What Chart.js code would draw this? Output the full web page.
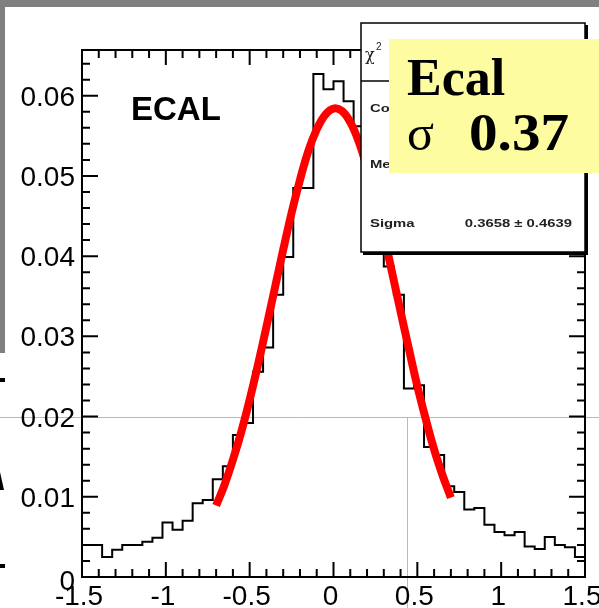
<!DOCTYPE html>
<html>
<head>
<meta charset="utf-8">
<script src="https://cdn.jsdelivr.net/npm/chart.js@4.4.1/dist/chart.umd.min.js"></script>
<style>
  html, body { margin: 0; padding: 0; background: #fff; }
  #caixa { width: 599px; height: 608px; overflow: hidden; }
</style>
</head>
<body>
<div id="caixa"><canvas id="graficoEcal" width="599" height="608"></canvas></div>
<script>
// histograma: 50 bins de 0.06 entre -1.5 e 1.5
const inicioBins = -1.5;
const larguraBin = 0.06;
const contagens = [
  0.0040, 0.0040, 0.0025, 0.0034, 0.0040, 0.0040, 0.0044, 0.0049, 0.0068, 0.0059,
  0.0070, 0.0092, 0.0096, 0.0122, 0.0138, 0.0177, 0.0192, 0.0256, 0.0286, 0.0352,
  0.0399, 0.0485, 0.0485, 0.0627, 0.0608, 0.0618, 0.0593, 0.0562, 0.0500, 0.0450,
  0.0387, 0.0352, 0.0235, 0.0239, 0.0162, 0.0152, 0.0113, 0.0106, 0.0084, 0.0086,
  0.0065, 0.0056, 0.0052, 0.0056, 0.0038, 0.0035, 0.0050, 0.0040, 0.0037, 0.0025
];

// curva do ajuste gaussiano (vermelha)
const ajusteX = [
  -0.70, -0.65, -0.60, -0.55, -0.50, -0.45, -0.40, -0.35, -0.30, -0.25,
  -0.20, -0.15, -0.10, -0.05, 0.00, 0.05, 0.10, 0.15, 0.20, 0.25,
  0.30, 0.35, 0.40, 0.45, 0.50, 0.55, 0.60, 0.65, 0.70
];
const ajusteY = [
  0.0089, 0.0115, 0.0146, 0.0181, 0.0221, 0.0265, 0.0312, 0.0360, 0.0408, 0.0454,
  0.0495, 0.0531, 0.0558, 0.0576, 0.0584, 0.0581, 0.0567, 0.0543, 0.0510, 0.0471,
  0.0427, 0.0379, 0.0331, 0.0284, 0.0238, 0.0197, 0.0159, 0.0127, 0.0099
];

const rotulosX = ['-1.5', '-1', '-0.5', '0', '0.5', '1', '1.5'];
const rotulosY = ['0', '0.01', '0.02', '0.03', '0.04', '0.05', '0.06'];

function montaHistograma() {
  let pontos = contagens.map((valor, i) => ({ x: inicioBins + i * larguraBin, y: valor }));
  pontos.push({ x: inicioBins + contagens.length * larguraBin, y: contagens[contagens.length - 1] });
  return pontos;
}

function montaAjuste() {
  return ajusteX.map((x, i) => ({ x: x, y: ajusteY[i] }));
}

function textoEsticado(ctx, texto, x, y, fator, alinhamento) {
  ctx.save();
  ctx.translate(x, y);
  ctx.scale(fator, 1);
  ctx.textAlign = alinhamento;
  ctx.fillText(texto, 0, 0);
  ctx.restore();
}

// linhas cinzas finas que cruzam o quadro
const linhasFundo = {
  id: 'linhasFundo',
  beforeDatasetsDraw(chart) {
    const ctx = chart.ctx;
    const y = chart.scales.y.getPixelForValue(0.02);
    const x = Math.round(chart.scales.x.getPixelForValue(0.44)) + 0.5;
    ctx.save();
    ctx.strokeStyle = '#b9b9b9';
    ctx.lineWidth = 1;
    ctx.beginPath();
    ctx.moveTo(0, Math.round(y) + 0.5);
    ctx.lineTo(chart.width, Math.round(y) + 0.5);
    ctx.moveTo(x, Math.round(y));
    ctx.lineTo(x, chart.height);
    ctx.stroke();
    ctx.restore();
  }
};

// moldura, marcas dos eixos, rótulos e caixas de texto
const moldura = {
  id: 'moldura',
  afterDraw(chart) {
    const ctx = chart.ctx;
    const area = chart.chartArea;
    const escX = chart.scales.x;
    const escY = chart.scales.y;

    ctx.save();
    ctx.strokeStyle = '#000';
    ctx.lineWidth = 2;
    ctx.strokeRect(area.left, area.top, area.right - area.left, area.bottom - area.top);

    ctx.beginPath();
    for (let i = -15; i <= 15; i++) {
      const px = escX.getPixelForValue(i / 10);
      const tam = i % 5 === 0 ? 15 : 8;
      ctx.moveTo(px, area.bottom);
      ctx.lineTo(px, area.bottom - tam);
      ctx.moveTo(px, area.top);
      ctx.lineTo(px, area.top + tam);
    }
    for (let i = 0; i <= 32; i++) {
      const py = escY.getPixelForValue(i * 0.002);
      const tam = i % 5 === 0 ? 16 : 8;
      ctx.moveTo(area.left, py);
      ctx.lineTo(area.left + tam, py);
      ctx.moveTo(area.right, py);
      ctx.lineTo(area.right - tam, py);
    }
    ctx.stroke();

    ctx.fillStyle = '#000';
    ctx.font = '28px "Liberation Sans", Arial, sans-serif';
    ctx.textAlign = 'right';
    ctx.textBaseline = 'alphabetic';
    rotulosY.forEach(r => {
      const ajusteBase = r === '0' ? 13 : 10;
      ctx.fillText(r, area.left - 7, escY.getPixelForValue(parseFloat(r)) + ajusteBase);
    });
    ctx.textAlign = 'center';
    rotulosX.forEach(r => {
      ctx.fillText(r, escX.getPixelForValue(parseFloat(r)) - 3, area.bottom + 28);
    });

    ctx.textAlign = 'left';
    ctx.font = 'bold 33px "Liberation Sans", Arial, sans-serif';
    ctx.fillText('ECAL', 131, 120);

    // caixa de estatísticas do ajuste
    ctx.fillStyle = '#000';
    ctx.fillRect(363, 25, 225, 230);
    ctx.fillStyle = '#fff';
    ctx.fillRect(361, 23, 224, 229);
    ctx.lineWidth = 1.5;
    ctx.strokeRect(361, 23, 224, 229);
    ctx.beginPath();
    ctx.moveTo(361, 81);
    ctx.lineTo(585, 81);
    ctx.stroke();

    ctx.fillStyle = '#222';
    ctx.font = '16px "DejaVu Serif", serif';
    ctx.fillText('χ', 365, 60);
    ctx.font = '10px "Liberation Sans", Arial, sans-serif';
    ctx.fillText('2', 376, 50);
    ctx.font = 'bold 11px "Liberation Sans", Arial, sans-serif';
    textoEsticado(ctx, 'Constant', 370, 112, 1.35, 'left');
    textoEsticado(ctx, 'Mean', 370, 168, 1.35, 'left');
    textoEsticado(ctx, 'Sigma', 370, 227, 1.35, 'left');
    textoEsticado(ctx, '0.3658 \u00b1 0.4639', 572, 227, 1.35, 'right');

    // etiqueta amarela
    ctx.fillStyle = '#fefca0';
    ctx.fillRect(389, 39, 210, 134);
    ctx.fillStyle = '#000';
    ctx.font = 'bold 52px "Liberation Serif", "Times New Roman", serif';
    ctx.fillText('Ecal', 407, 95);
    textoEsticado(ctx, '0.37', 469, 150, 1.1, 'left');
    ctx.font = '50px "Liberation Serif", "Times New Roman", serif';
    ctx.fillText('σ', 407, 150);

    // bordas cinzas e restos de texto na margem esquerda
    ctx.fillStyle = '#808080';
    ctx.fillRect(0, 0, chart.width, 7);
    ctx.fillRect(0, 0, 5, 353);
    ctx.fillStyle = '#000';
    ctx.fillRect(0, 378, 5, 4);
    ctx.fillRect(0, 564, 5, 4);
    ctx.beginPath();
    ctx.moveTo(0, 472);
    ctx.lineTo(4, 490);
    ctx.lineTo(0, 490);
    ctx.closePath();
    ctx.fill();
    ctx.restore();
  }
};

const graficoEcal = new Chart(document.querySelector('#graficoEcal'), {
  type: 'line',
  data: {
    datasets: [
      {
        label: 'Ajuste',
        data: montaAjuste(),
        borderColor: '#ff0000',
        borderWidth: 8,
        pointRadius: 0,
        tension: 0.4,
        borderJoinStyle: 'round'
      },
      {
        label: 'ECAL',
        data: montaHistograma(),
        borderColor: '#000',
        borderWidth: 2,
        pointRadius: 0,
        stepped: true
      }
    ]
  },
  options: {
    responsive: false,
    animation: false,
    devicePixelRatio: 1,
    layout: { padding: { left: 82, right: 14, top: 50, bottom: 31 } },
    plugins: { legend: { display: false }, tooltip: { enabled: false } },
    scales: {
      x: { type: 'linear', min: -1.5, max: 1.5, display: false },
      y: { min: 0, max: 0.0657, display: false }
    }
  },
  plugins: [linhasFundo, moldura]
});
</script>
</body>
</html>
